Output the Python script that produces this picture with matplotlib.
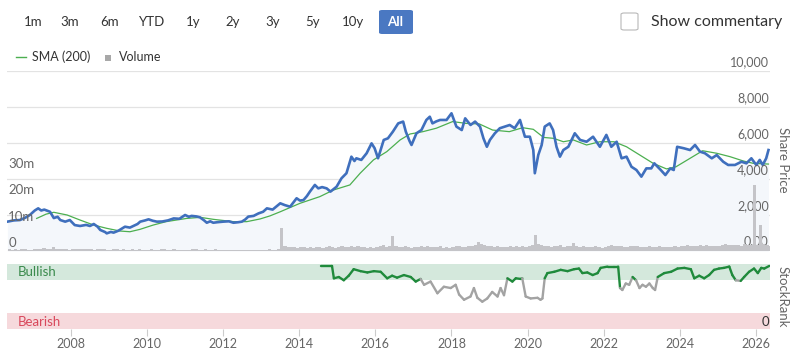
import numpy as np
import matplotlib
matplotlib.use("Agg")
import matplotlib.pyplot as plt
from matplotlib.patches import FancyBboxPatch, Rectangle
from matplotlib.collections import LineCollection

plt.rcParams['font.family'] = ['Lato', 'DejaVu Sans']

# ---------------- data ----------------
buttons = ["1m", "3m", "6m", "YTD", "1y", "2y", "3y", "5y", "10y", "All"]
year_ticks = [2008, 2010, 2012, 2014, 2016, 2018, 2020, 2022, 2024, 2026]
price_ticks = [0, 2000, 4000, 6000, 8000, 10000]
price_tick_labels = ["0.00", "2,000", "4,000", "6,000", "8,000", "10,000"]
vol_ticks = [0, 10e6, 20e6, 30e6]
vol_tick_labels = ["0", "10m", "20m", "30m"]

price_dates = [
    2006.33, 2006.50, 2006.66, 2006.80, 2006.92, 2007.05, 2007.14, 2007.22, 2007.30, 2007.45,
    2007.55, 2007.65, 2007.72, 2007.85, 2007.97, 2008.10, 2008.24, 2008.40, 2008.50, 2008.60,
    2008.70, 2008.77, 2008.90, 2008.94, 2009.05, 2009.12, 2009.25, 2009.42, 2009.55, 2009.64,
    2009.75, 2009.82, 2009.95, 2010.04, 2010.15, 2010.26, 2010.40, 2010.55, 2010.70, 2010.85,
    2011.00, 2011.10, 2011.17, 2011.30, 2011.39, 2011.50, 2011.57, 2011.66, 2011.74, 2011.85,
    2012.00, 2012.15, 2012.27, 2012.40, 2012.49, 2012.58, 2012.66, 2012.80, 2012.93, 2013.05,
    2013.15, 2013.30, 2013.50, 2013.62, 2013.76, 2013.93, 2014.02, 2014.11, 2014.20, 2014.28,
    2014.41, 2014.50, 2014.60, 2014.72, 2014.82, 2014.98, 2015.11, 2015.24, 2015.37, 2015.45,
    2015.50, 2015.63, 2015.77, 2015.90, 2015.98, 2016.07, 2016.15, 2016.22, 2016.33, 2016.46,
    2016.60, 2016.73, 2016.80, 2016.90, 2016.95, 2017.08, 2017.21, 2017.34, 2017.43, 2017.50,
    2017.60, 2017.70, 2017.87, 2018.00, 2018.13, 2018.27, 2018.36, 2018.50, 2018.62, 2018.75,
    2018.84, 2018.93, 2019.01, 2019.14, 2019.27, 2019.40, 2019.53, 2019.66, 2019.80, 2019.93,
    2020.06, 2020.15, 2020.19, 2020.28, 2020.37, 2020.45, 2020.58, 2020.67, 2020.76, 2020.85,
    2020.94, 2021.07, 2021.24, 2021.38, 2021.55, 2021.72, 2021.90, 2022.07, 2022.20, 2022.34,
    2022.47, 2022.60, 2022.73, 2022.86, 2022.99, 2023.12, 2023.25, 2023.33, 2023.50, 2023.62,
    2023.75, 2023.84, 2023.93, 2024.10, 2024.27, 2024.40, 2024.53, 2024.66, 2024.84, 2024.97,
    2025.14, 2025.27, 2025.45, 2025.62, 2025.75, 2025.88, 2026.01, 2026.10, 2026.18, 2026.27,
    2026.33]
price_values = [
    1630, 1700, 1720, 1850, 2000, 2250, 2370, 2250, 2300, 2180,
    1830, 1900, 1720, 1630, 1720, 1440, 1390, 1450, 1390, 1500,
    1350, 1170, 1050, 980, 1060, 1020, 1130, 1350, 1300, 1390,
    1500, 1630, 1700, 1760, 1680, 1630, 1640, 1700, 1810, 1790,
    2000, 1900, 1950, 1920, 1870, 1700, 1570, 1650, 1570, 1600,
    1630, 1650, 1570, 1600, 1630, 1750, 1910, 1950, 2090, 2180,
    2370, 2300, 2650, 2550, 2460, 2930, 2800, 2830, 3050, 3300,
    3670, 3480, 3550, 3480, 3300, 3570, 4040, 4320, 5240, 5000,
    5150, 5060, 5430, 5980, 5710, 5150, 5700, 6170, 6260, 6630,
    7090, 7190, 6630, 6100, 5890, 6540, 6720, 7280, 7460, 7090,
    7200, 7280, 7280, 7650, 6910, 6720, 7370, 7000, 7190, 6910,
    6260, 5790, 6170, 6540, 6820, 6910, 7000, 6820, 7280, 6350,
    6350, 5610, 4320, 5330, 5890, 6910, 7090, 6720, 5790, 5240,
    5610, 5790, 6540, 6170, 6070, 6350, 5790, 6450, 5790, 6070,
    5150, 5240, 4680, 4500, 4130, 4590, 4590, 4870, 4500, 4220,
    4590, 4500, 5790, 5710, 5610, 5890, 5520, 5430, 5150, 5330,
    4960, 4780, 4780, 4960, 4870, 5150, 4780, 5060, 4780, 5150,
    5610]

sma_dates = [
    2007.10, 2007.35, 2007.55, 2007.90, 2008.24, 2008.60, 2008.94, 2009.29, 2009.55, 2009.81,
    2010.16, 2010.50, 2011.04, 2011.40, 2011.74, 2012.27, 2012.62, 2012.97, 2013.23, 2013.50,
    2014.02, 2014.54, 2014.90, 2015.33, 2015.60, 2015.95, 2016.30, 2016.65, 2016.91, 2017.25,
    2017.60, 2018.03, 2018.38, 2018.73, 2019.08, 2019.52, 2019.87, 2020.15, 2020.42, 2020.68,
    2020.94, 2021.20, 2021.55, 2021.90, 2022.27, 2022.60, 2022.95, 2023.30, 2023.65, 2023.90,
    2024.27, 2024.60, 2024.97, 2025.32, 2025.67, 2025.93, 2026.33]
sma_values = [
    1810, 2050, 2150, 2000, 1720, 1440, 1260, 1110, 1070, 1200,
    1440, 1630, 1810, 1870, 1760, 1630, 1630, 1780, 1950, 2180,
    2650, 3020, 3390, 3670, 4320, 5060, 5520, 6170, 6500, 6630,
    6820, 7190, 7090, 7060, 6720, 6630, 6850, 6760, 6310, 6260,
    6070, 6170, 5890, 6070, 6070, 5790, 5330, 4870, 4560, 4680,
    5150, 5570, 5430, 5240, 5000, 4870, 4830]

# monthly volume (millions), May 2006 .. May 2026
volume_m = [
    0.6, 0.5, 0.7, 0.5, 0.6, 0.8, 0.5, 0.4,
    0.6, 0.9, 0.8, 1.2, 0.7, 0.9, 1.5, 0.8, 0.7, 0.9, 0.6, 0.5,
    0.7, 0.8, 0.6, 0.9, 0.7, 0.6, 0.8, 0.5, 0.7, 0.9, 0.6, 0.4,
    0.5, 0.6, 0.7, 0.5, 0.6, 0.4, 0.5, 0.6, 0.5, 0.7, 0.5, 0.4,
    0.5, 0.6, 0.4, 0.5, 0.7, 0.8, 0.5, 0.4, 0.6, 0.5, 0.4, 0.3,
    0.4, 0.5, 0.9, 0.6, 0.4, 0.5, 0.6, 0.4, 0.5, 0.7, 0.4, 0.3,
    0.4, 0.5, 0.4, 0.3, 0.5, 0.4, 0.3, 0.4, 0.5, 0.4, 0.3, 0.4,
    0.4, 0.5, 0.6, 0.5, 0.4, 0.6, 8.7, 1.8, 1.5, 1.6, 1.4, 1.3,
    1.4, 1.6, 1.3, 1.5, 1.2, 1.4, 1.6, 1.3, 1.5, 1.7, 1.4, 1.2,
    1.5, 1.8, 1.6, 1.4, 1.7, 1.5, 1.9, 1.6, 1.4, 1.3, 1.5, 1.2,
    1.6, 1.8, 2.2, 1.5, 1.7, 5.8, 1.9, 1.6, 1.4, 1.8, 1.5, 1.3,
    1.6, 1.4, 1.7, 1.5, 1.8, 1.6, 1.4, 1.5, 1.7, 1.3, 1.5, 1.2,
    1.5, 1.7, 1.9, 1.6, 1.5, 1.8, 2.0, 2.4, 3.5, 2.6, 2.2, 1.8,
    1.7, 1.6, 1.9, 1.5, 1.4, 1.6, 1.8, 1.5, 1.7, 1.6, 1.9, 1.4,
    1.8, 2.2, 6.0, 2.8, 2.1, 1.9, 1.7, 1.6, 1.8, 2.0, 2.3, 1.6,
    1.7, 1.9, 3.1, 1.8, 1.6, 1.7, 1.5, 1.4, 1.6, 1.7, 1.5, 1.3,
    1.6, 1.8, 2.4, 1.9, 1.7, 1.8, 1.6, 1.5, 1.7, 2.0, 1.8, 1.4,
    1.6, 1.5, 1.8, 1.4, 1.5, 1.7, 1.6, 1.4, 1.5, 1.6, 1.8, 1.5,
    1.7, 1.9, 2.2, 1.8, 2.0, 1.9, 2.1, 1.8, 2.3, 2.0, 1.9, 1.7,
    2.0, 2.3, 2.6, 2.2, 2.1, 2.4, 2.3, 2.0, 2.5, 2.2, 2.1, 25.0,
    2.4, 9.8, 2.6, 2.2, 2.0]
vol_start_year = 2006
vol_start_month = 5

rank_dates = [
    2014.56, 2014.86, 2014.91, 2015.04, 2015.17, 2015.30, 2015.43, 2015.61, 2015.79, 2015.96,
    2016.14, 2016.31, 2016.44, 2016.57, 2016.75, 2016.93, 2017.06, 2017.19, 2017.28, 2017.45,
    2017.63, 2017.80, 2017.98, 2018.11, 2018.20, 2018.33, 2018.50, 2018.59, 2018.68, 2018.81,
    2018.94, 2019.07, 2019.21, 2019.29, 2019.38, 2019.47, 2019.60, 2019.69, 2019.82, 2019.86,
    2019.95, 2020.08, 2020.26, 2020.34, 2020.39, 2020.45, 2020.52, 2020.70, 2020.87, 2021.05,
    2021.22, 2021.35, 2021.44, 2021.57, 2021.71, 2021.84, 2021.92, 2022.10, 2022.27, 2022.38,
    2022.43, 2022.49, 2022.58, 2022.67, 2022.76, 2022.85, 2022.94, 2023.02, 2023.11, 2023.20,
    2023.29, 2023.35, 2023.42, 2023.59, 2023.77, 2023.94, 2024.12, 2024.29, 2024.38, 2024.51,
    2024.64, 2024.77, 2024.90, 2025.03, 2025.16, 2025.30, 2025.38, 2025.47, 2025.60, 2025.69,
    2025.82, 2025.95, 2026.05, 2026.14, 2026.22, 2026.35]
rank_values = [
    97, 97, 78, 80, 75, 82, 92, 89, 87, 89,
    88, 78, 82, 79, 83, 80, 73, 77, 68, 73,
    55, 65, 63, 68, 53, 45, 50, 63, 48, 42,
    47, 57, 50, 63, 52, 78, 73, 78, 77, 78,
    50, 47, 48, 45, 47, 78, 86, 88, 91, 89,
    92, 93, 86, 87, 83, 86, 94, 96, 96, 96,
    63, 60, 70, 68, 80, 75, 63, 68, 65, 70,
    63, 60, 80, 86, 88, 93, 94, 92, 78, 82,
    78, 83, 91, 93, 94, 96, 83, 75, 74, 80,
    88, 93, 86, 94, 93, 97]

# ---------------- figure ----------------
W, H = 797, 352
fig = plt.figure(figsize=(W / 100, H / 100), dpi=100)
fig.patch.set_facecolor("white")

def fx(px):
    return px / W

def fy(py):
    return 1 - py / H

XMIN, XMAX = 2006.32, 2026.37
TXT = "#333333"
AXT = "#666666"

# buttons
btn_x = [33, 70, 110, 152, 193, 233, 273, 313, 353, 395]
for lab, bx in zip(buttons, btn_x):
    if lab == "All":
        fig.patches.append(FancyBboxPatch((fx(379), fy(34)), fx(34), 24 / H,
                                          boxstyle="round,pad=0,rounding_size=0.004",
                                          transform=fig.transFigure, facecolor="#4a78c2",
                                          edgecolor="none"))
        fig.text(fx(bx), fy(22), lab, ha="center", va="center", fontsize=9.5,
                 color="white", fontweight="bold")
    else:
        fig.text(fx(bx), fy(22), lab, ha="center", va="center", fontsize=9.5, color=TXT)

# checkbox + show commentary
fig.patches.append(FancyBboxPatch((fx(621), fy(30)), fx(17), 17 / H,
                                  boxstyle="round,pad=0,rounding_size=0.004",
                                  transform=fig.transFigure, facecolor="white",
                                  edgecolor="#b8b8b8", linewidth=0.8))
fig.text(fx(651), fy(22), "Show commentary", ha="left", va="center", fontsize=11.5, color=TXT)

# legend
fig.lines.append(plt.Line2D([fx(16), fx(26)], [fy(57), fy(57)], transform=fig.transFigure,
                            color="#4caf50", linewidth=1))
fig.text(fx(32), fy(57), "SMA (200)", ha="left", va="center", fontsize=9, color=TXT)
fig.patches.append(Rectangle((fx(105), fy(61)), fx(6), 6 / H, transform=fig.transFigure,
                             facecolor="#a8a8a8", edgecolor="none"))
fig.text(fx(119), fy(57), "Volume", ha="left", va="center", fontsize=9, color=TXT)

# ---------------- price axes ----------------
ax = fig.add_axes([fx(7), fy(251), fx(763), 180 / H])
ax.set_xlim(XMIN, XMAX)
ax.set_ylim(0, 10000)
for s in ax.spines.values():
    s.set_visible(False)
ax.set_yticks(price_ticks)
ax.yaxis.grid(True, color="#e3e3e3", linewidth=0.9)
ax.set_axisbelow(True)
ax.set_xticks([])

pd_ = np.array(price_dates)
pv_ = np.array(price_values)
ax.fill_between(pd_, pv_, 0, color="#f4f7fb", zorder=1, linewidth=0)
ax.plot(sma_dates, sma_values, color="#4caf50", linewidth=0.9, zorder=3)
ax.plot(pd_, pv_, color="#3f6fbd", linewidth=1.9, zorder=4, solid_joinstyle="round")

for v, lab in zip(price_ticks, price_tick_labels):
    ax.text(0.9985, v + 150, lab, transform=ax.get_yaxis_transform(), ha="right",
            va="bottom", fontsize=9, color=AXT, zorder=6)

fig.text(fx(783), fy(160), "Share Price", rotation=270, ha="center", va="center",
         fontsize=9.5, color=AXT)

# volume
axv = ax.twinx()
axv.set_ylim(0, 67.9e6)
axv.set_xlim(XMIN, XMAX)
axv.patch.set_visible(False)
for s in axv.spines.values():
    s.set_visible(False)
axv.set_yticks([])
ax.tick_params(left=False, right=False, bottom=False, labelleft=False, labelright=False,
               labelbottom=False)
axv.tick_params(left=False, right=False, labelright=False, labelleft=False)
vol = np.array(volume_m) * 1e6
vdates = np.array([vol_start_year + (vol_start_month - 1 + i) / 12 for i in range(len(vol))])
axv.bar(vdates, vol, width=1 / 12, align="edge", color="#c4c4c8", edgecolor="none", zorder=2)
for v, lab in zip(vol_ticks, vol_tick_labels):
    axv.text(0.0015, v + 0.6e6, lab, transform=axv.get_yaxis_transform(), ha="left",
             va="bottom", fontsize=9.5, color=AXT, zorder=6)

# ---------------- stockrank axes ----------------
axr = fig.add_axes([fx(7), fy(329), fx(763), 65 / H])
axr.set_xlim(XMIN, XMAX)
axr.set_ylim(0, 100)
for s in axr.spines.values():
    s.set_visible(False)
axr.axhspan(75, 100, color="#d4e8dc", linewidth=0, zorder=0)
axr.axhspan(0, 24.6, color="#f6d9dc", linewidth=0, zorder=0)
axr.set_yticks([])
axr.set_xticks(year_ticks)
axr.set_xticklabels([str(y) for y in year_ticks])
axr.tick_params(axis="x", length=5, width=0.8, color="#cccccc", labelsize=9,
                labelcolor=AXT, pad=1.5)

rd = np.array(rank_dates)
rv = np.array(rank_values)
pts = np.column_stack([rd, rv]).reshape(-1, 1, 2)
segs = np.concatenate([pts[:-1], pts[1:]], axis=1)
mid = (rv[:-1] + rv[1:]) / 2
cols = ["#1f8a3b" if m >= 75 else "#a3a3a3" for m in mid]
lc = LineCollection(segs, colors=cols, linewidths=1.7, zorder=3, capstyle="round",
                    joinstyle="round")
axr.add_collection(lc)

axr.text(0.014, 87.5, "Bullish", transform=axr.get_yaxis_transform(), ha="left",
         va="center", fontsize=9.5, color="#3a8a4c")
axr.text(0.014, 11, "Bearish", transform=axr.get_yaxis_transform(), ha="left",
         va="center", fontsize=9.5, color="#d9485c")
axr.text(0.9985, 11, "0", transform=axr.get_yaxis_transform(), ha="right",
         va="center", fontsize=9.5, color=TXT)
fig.text(fx(783), fy(297), "StockRank", rotation=270, ha="center", va="center",
         fontsize=9.5, color=AXT)

fig.savefig("out.png", dpi=100, facecolor="white")
